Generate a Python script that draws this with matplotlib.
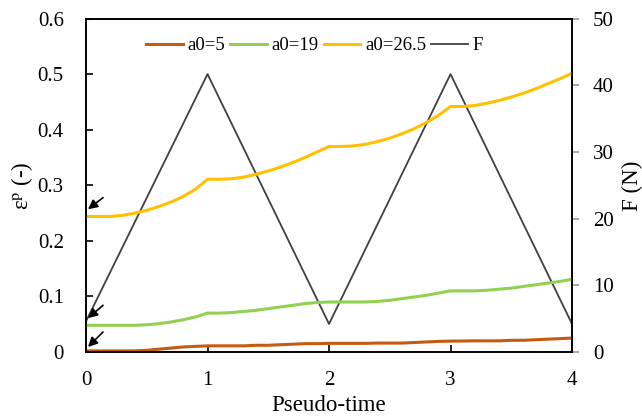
import numpy as np
import matplotlib.pyplot as plt

plt.rcParams['font.family'] = ['Liberation Serif', 'DejaVu Serif']
plt.rcParams['mathtext.fontset'] = 'stix'

# pseudo-time steps (0.1 spacing)
t = np.round(np.arange(0, 4.01, 0.1), 2)

eps_a5 = [0.002, 0.002, 0.002, 0.002, 0.002, 0.003, 0.005, 0.007, 0.009, 0.010,
          0.011, 0.011, 0.011, 0.011, 0.012, 0.012, 0.013, 0.014, 0.015, 0.015,
          0.0155, 0.0155, 0.0155, 0.0155, 0.016, 0.016, 0.016, 0.017, 0.018, 0.019,
          0.0195, 0.0197, 0.020, 0.020, 0.020, 0.021, 0.021, 0.022, 0.023, 0.024,
          0.025]
eps_a19 = [0.048, 0.048, 0.048, 0.048, 0.048, 0.049, 0.051, 0.054, 0.058, 0.063,
           0.070, 0.070, 0.071, 0.073, 0.075, 0.078, 0.081, 0.084, 0.087, 0.089,
           0.090, 0.090, 0.090, 0.090, 0.091, 0.093, 0.096, 0.099, 0.102, 0.106,
           0.110, 0.110, 0.110, 0.111, 0.113, 0.115, 0.118, 0.121, 0.124, 0.127,
           0.131]
eps_a265 = [0.244, 0.244, 0.244, 0.246, 0.250, 0.255, 0.262, 0.270, 0.280, 0.293,
            0.311, 0.311, 0.312, 0.315, 0.320, 0.326, 0.333, 0.341, 0.350, 0.360,
            0.370, 0.370, 0.371, 0.374, 0.379, 0.385, 0.393, 0.402, 0.413, 0.426,
            0.442, 0.442, 0.444, 0.448, 0.453, 0.459, 0.466, 0.474, 0.483, 0.492,
            0.502]

t_F = [0, 1, 2, 3, 4]
F = [4.6, 41.7, 4.2, 41.7, 4.2]

# arrows marking the initial values
arrow_tips = [0.257, 0.061, 0.009]
arrow_tails = [0.278, 0.084, 0.036]

fig = plt.figure(figsize=(6.42, 4.18), dpi=100)
ax = fig.add_axes([0.134, 0.158, 0.757, 0.797])
ax2 = ax.twinx()

l1, = ax.plot(t, eps_a5, color='#C55A11', lw=2.2, label='a0=5')
l2, = ax.plot(t, eps_a19, color='#92D050', lw=2.2, label='a0=19')
l3, = ax.plot(t, eps_a265, color='#FFC000', lw=2.2, label='a0=26.5')
l4, = ax2.plot(t_F, F, color='#404040', lw=1.3, label='F')
ax.set_zorder(ax2.get_zorder() + 1)
ax.patch.set_visible(False)

for tip, tail in zip(arrow_tips, arrow_tails):
    ax.annotate('', xy=(0.016, tip), xytext=(0.14, tail),
                arrowprops=dict(arrowstyle='-|>', color='black', lw=1.2,
                                mutation_scale=14, shrinkA=0, shrinkB=0))

ax.set_xlim(0, 4)
ax.set_ylim(0, 0.6)
ax2.set_ylim(0, 50)
ax.set_xticks([0, 1, 2, 3, 4])
ax.set_yticks(np.arange(0, 0.61, 0.1))
ax.set_yticklabels(['0', '0.1', '0.2', '0.3', '0.4', '0.5', '0.6'])
ax2.set_yticks(range(0, 51, 10))

ax.tick_params(axis='both', direction='in', labelsize=15, length=5, width=1.2)
ax.tick_params(axis='x', pad=14)
ax.tick_params(axis='y', pad=16)
ax2.tick_params(axis='y', direction='out', labelsize=15, length=5, width=1.2,
                color='#999999', pad=10)

for sp in ax.spines.values():
    sp.set_linewidth(1.2)
for sp in ax2.spines.values():
    sp.set_linewidth(1.2)

ax.set_xlabel('Pseudo-time', fontsize=16.5, labelpad=3)
ax.set_ylabel('ε$^{\\mathrm{p}}$ (-)', fontsize=16.5, labelpad=2)
ax2.set_ylabel('F (N)', fontsize=16.5, labelpad=6)

ax.legend(handles=[l1, l2, l3, l4], loc='upper center', ncol=4, frameon=False,
          fontsize=13.5, handlelength=1.95, handletextpad=0.26, columnspacing=0.26,
          bbox_to_anchor=(0.47, 0.995))

fig.savefig('out.png', dpi=100)
